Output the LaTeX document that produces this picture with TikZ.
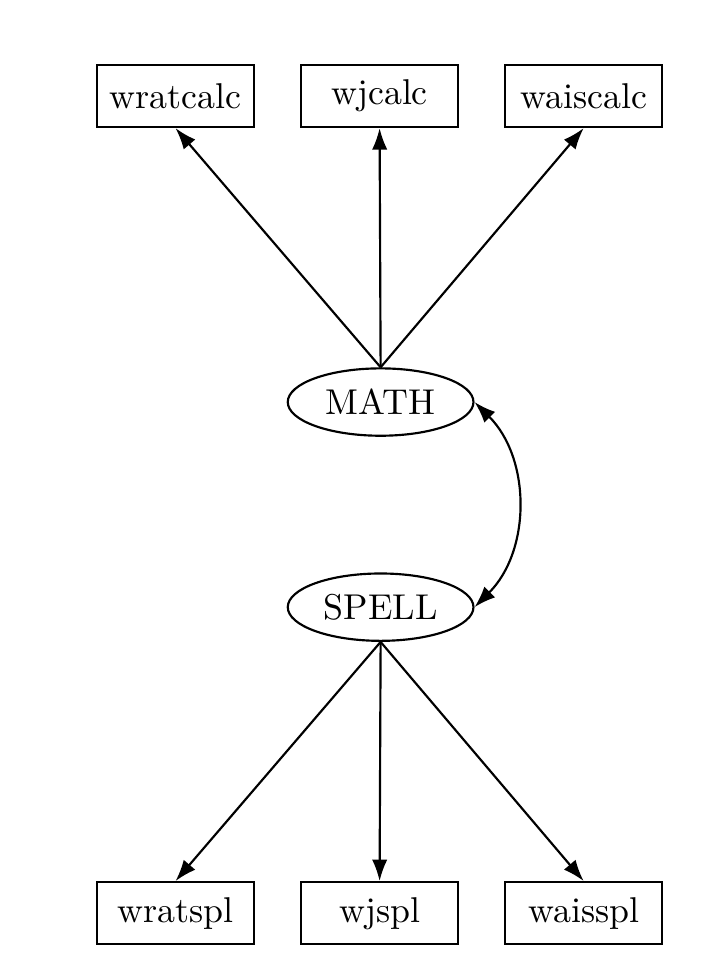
\documentclass[tikz,border=0pt]{standalone}
\usetikzlibrary{shapes.geometric,arrows.meta}
\begin{document}
\begin{tikzpicture}[
  box/.style={draw, semithick, minimum width=1.54cm, minimum height=0.61cm, inner sep=2pt},
  lat/.style={draw, semithick, ellipse, minimum width=1.82cm, minimum height=0.66cm, inner sep=1pt},
  path/.style={semithick, -{Latex[length=2.1mm, width=1.5mm]}}]
\useasboundingbox (0,0) rectangle (7.056,-9.447);
% indicators of MATH
\node[box] (wratcalc) at (1.72,-0.94) {wratcalc};
\node[box] (wjcalc) at (3.72,-0.94) {wjcalc};
\node[box] (waiscalc) at (5.72,-0.94) {waiscalc};
% latent factors
\node[lat] (math) at (3.73,-3.94) {MATH};
\node[lat] (spell) at (3.73,-5.95) {SPELL};
% indicators of SPELL
\node[box] (wratspl) at (1.72,-8.95) {wratspl};
\node[box] (wjspl) at (3.72,-8.95) {wjspl};
\node[box] (waisspl) at (5.72,-8.95) {waisspl};
% loadings
\draw[path] (math.north) -- (wratcalc.south);
\draw[path] (math.north) -- (wjcalc.south);
\draw[path] (math.north) -- (waiscalc.south);
\draw[path] (spell.south) -- (wratspl.north);
\draw[path] (spell.south) -- (wjspl.north);
\draw[path] (spell.south) -- (waisspl.north);
% covariance
\draw[semithick, {Latex[length=2.1mm, width=1.5mm]}-{Latex[length=2.1mm, width=1.5mm]}] (math.east) to[bend left=45] (spell.east);
\end{tikzpicture}
\end{document}
